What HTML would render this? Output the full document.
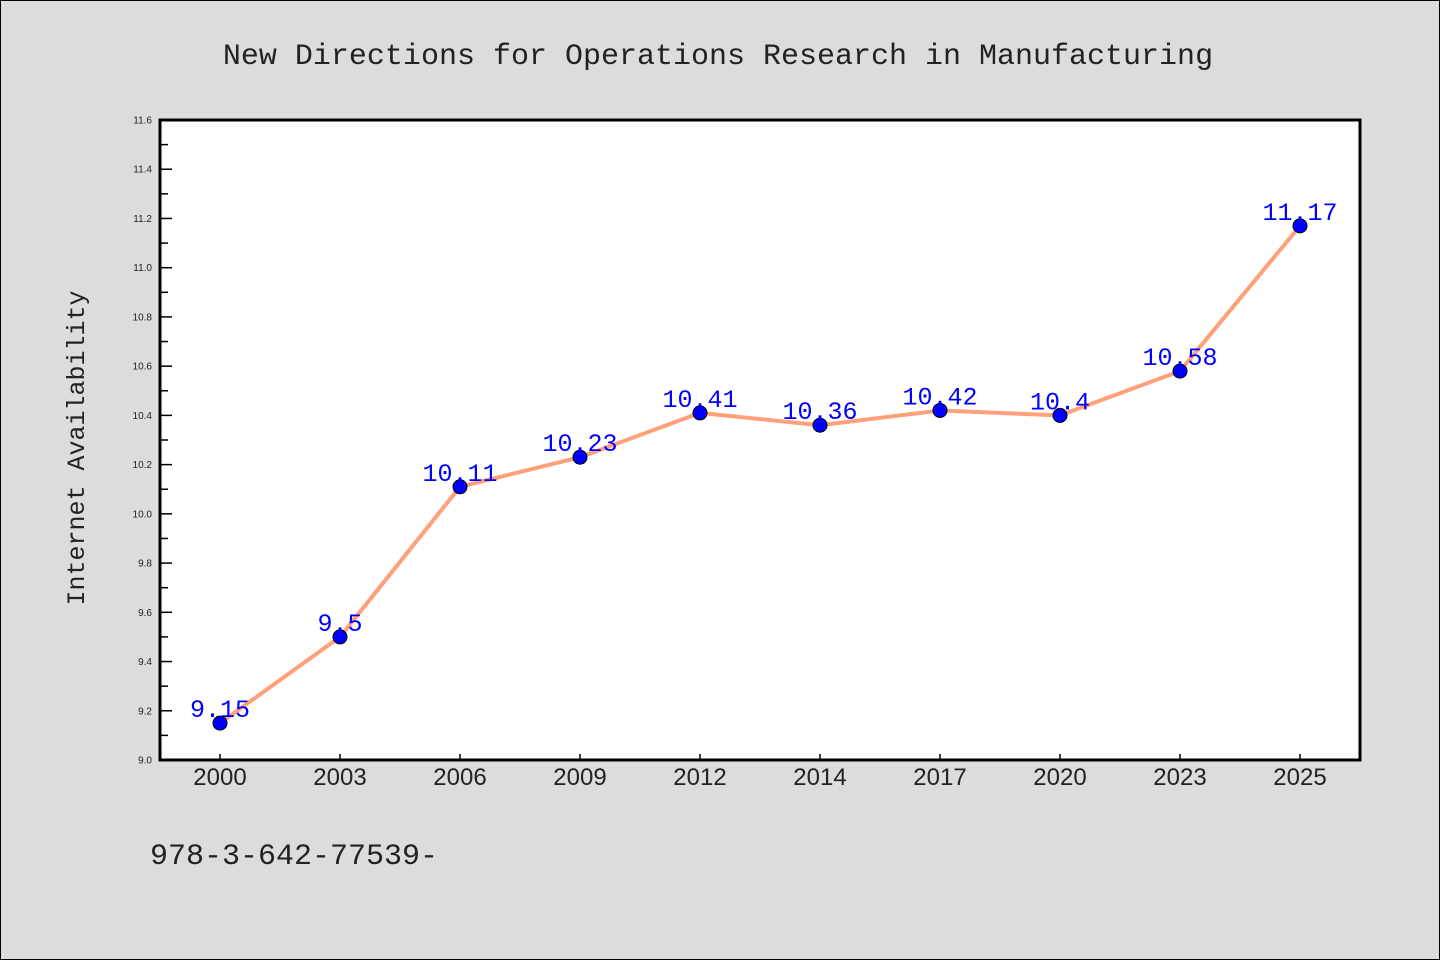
<!DOCTYPE html>
<html><head><meta charset="utf-8"><style>
body{margin:0;background:#dcdcdc;}
svg{display:block;}
</style></head><body>
<svg id="chart" width="1440" height="960" xmlns="http://www.w3.org/2000/svg">
<rect x="0.5" y="0.5" width="1439" height="959" fill="#dcdcdc" stroke="#000"/>
<text x="718" y="64" text-anchor="middle" font-family="'Liberation Mono', monospace" font-size="30" fill="#222">New Directions for Operations Research in Manufacturing</text>
<rect x="160" y="120" width="1200" height="640" fill="#fff"/>
<g id="axes"></g>
<g id="marks"></g>
<path d="M160,120 H1360 V760 H160 Z" fill="none" stroke="#000" stroke-width="3"/>
<text transform="translate(84,448) rotate(-90)" text-anchor="middle" font-family="'Liberation Mono', monospace" font-size="25" fill="#222">Internet Availability</text>
<text x="150" y="864" font-family="'Liberation Mono', monospace" font-size="30" fill="#222">978-3-642-77539-</text>
</svg>
<script>
const categories = ["2000","2003","2006","2009","2012","2014","2017","2020","2023","2025"];
const values = [9.15,9.5,10.11,10.23,10.41,10.36,10.42,10.4,10.58,11.17];
const yTicks = [9.0,9.2,9.4,9.6,9.8,10.0,10.2,10.4,10.6,10.8,11.0,11.2,11.4,11.6];
const yMin = 9.0, yMax = 11.6;
const NS = "http://www.w3.org/2000/svg";
const plotLeft = 160, plotRight = 1360, plotTop = 120, plotBottom = 760;
const band = (plotRight - plotLeft) / categories.length;
function xPos(i){ return plotLeft + band * (i + 0.5); }
function yPos(v){ return plotBottom - (v - yMin) / (yMax - yMin) * (plotBottom - plotTop); }
function mk(tag, attrs, parent){
  const e = document.createElementNS(NS, tag);
  for (const k in attrs) e.setAttribute(k, attrs[k]);
  parent.appendChild(e); return e;
}
const axesG = document.getElementById("axes");
const marksG = document.getElementById("marks");
yTicks.forEach((t, i) => {
  const y = yPos(t);
  const tk = mk("line", {x1:plotLeft, x2:plotLeft+12, y1:y, y2:y, stroke:"#000", "stroke-width":1.5}, axesG);
  
  
  const lb = mk("text", {x:plotLeft-8, y:y+3.5, "text-anchor":"end", "font-family":"'Liberation Sans', sans-serif", "font-size":10, fill:"#222"}, axesG);
  lb.textContent = t.toFixed(1);
  
  
  if (i < yTicks.length - 1) {
    const ym = yPos((t + yTicks[i+1]) / 2);
    const mt = mk("line", {x1:plotLeft, x2:plotLeft+8, y1:ym, y2:ym, stroke:"#000", "stroke-width":1.5}, axesG);
    
    
  }
});
categories.forEach((c, i) => {
  const x = xPos(i);
  const tk = mk("line", {x1:x, x2:x, y1:plotBottom, y2:plotBottom-6, stroke:"#000", "stroke-width":1.5}, axesG);
  
  
  const lb = mk("text", {x:x, y:plotBottom+25, "text-anchor":"middle", "font-family":"'Liberation Sans', sans-serif", "font-size":24, fill:"#222"}, axesG);
  lb.textContent = c;
  
  
});
const pts = values.map((v, i) => xPos(i) + "," + yPos(v)).join(" ");
const seriesLine = mk("polyline", {points:pts, fill:"none", stroke:"#ffa07a", "stroke-width":4, "stroke-linejoin":"round"}, marksG);


values.forEach((v, i) => {
  const c = mk("circle", {cx:xPos(i), cy:yPos(v), r:7, fill:"#0000ff", stroke:"#000", "stroke-width":1}, marksG);
  
  
  const t = mk("text", {x:xPos(i), y:yPos(v)-6, "text-anchor":"middle", "font-family":"'Liberation Mono', monospace", "font-size":25, fill:"#0000ff"}, marksG);
  t.textContent = String(v);
  
  
});
</script>
</body></html>
